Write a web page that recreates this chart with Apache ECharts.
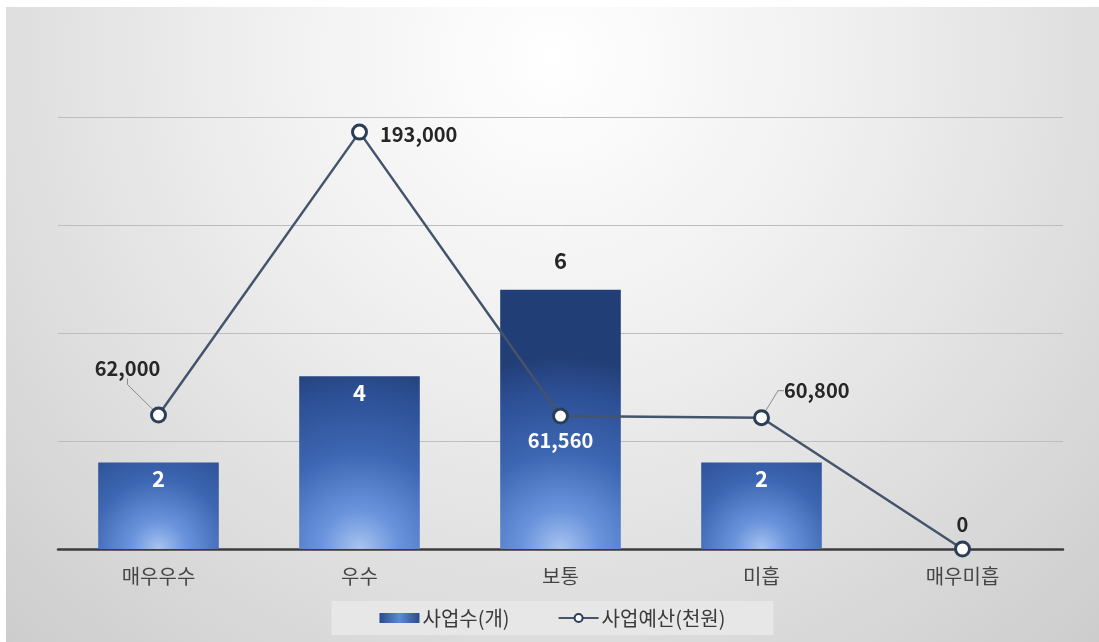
<!DOCTYPE html>
<html>
<head>
<meta charset="utf-8">
<script src="https://cdn.jsdelivr.net/npm/echarts@6/dist/echarts.min.js"></script>
<style>
html,body{margin:0;padding:0;background:#ffffff;width:1099px;height:642px;overflow:hidden;}
#chart{position:absolute;left:6px;top:7px;width:1093px;height:635px;}
</style>
</head>
<body>
<div id="chart"></div>
<script>
const categories = ['매우우수', '우수', '보통', '미흡', '매우미흡'];
const projectCounts = [2, 4, 6, 2, 0];
const budgets = [62000, 193000, 61560, 60800, 0];
const seriesNames = ['사업수(개)', '사업예산(천원)'];

const FONT = '"Noto Sans CJK KR", "Noto Sans", sans-serif';
const chart = echarts.init(document.getElementById('chart'), null, {renderer: 'canvas'});

const barGradient = new echarts.graphic.RadialGradient(0.5, 1.0, 1.6, [
  {offset: 0, color: '#a9c4f0'},
  {offset: 0.2, color: '#6a94dc'},
  {offset: 0.5, color: '#3d67b2'},
  {offset: 0.8, color: '#2d5096'},
  {offset: 1, color: '#223e76'}
]);
const legendGradient = new echarts.graphic.LinearGradient(0, 0, 1, 0, [
  {offset: 0, color: '#2a4b8c'},
  {offset: 0.5, color: '#5b8ad8'},
  {offset: 1, color: '#2a4b8c'}
]);

const barData = projectCounts.map((v, i) => {
  const item = {value: v};
  if (v === 6) {
    item.label = {position: 'top', color: '#262626', distance: 18};
  }
  return item;
});

const lineLabelCfg = [
  {position: 'top', dx: -31, dy: -22, line: true},
  {position: 'right', dx: 6, dy: 2, line: false},
  {position: 'bottom', color: '#ffffff', dx: 0, dy: 0, line: false},
  {position: 'right', dx: 8, dy: -27, line: true},
  {position: 'top', dx: 0, dy: 0, line: false}
];

const lineData = budgets.map((v, i) => {
  const c = lineLabelCfg[i];
  const item = {value: v, label: {position: c.position}};
  if (c.color) item.label.color = c.color;
  if (c.line) item.labelLine = {show: true, length2: 6, lineStyle: {color: '#8a8a8a', width: 1}};
  return item;
});

const option = {
  backgroundColor: new echarts.graphic.RadialGradient(0.5, 0.08, 1.3, [
    {offset: 0, color: '#ffffff'},
    {offset: 0.35, color: '#f0f0f0'},
    {offset: 1, color: '#cbcbcb'}
  ]),
  animation: false,
  textStyle: {fontFamily: FONT},
  grid: {left: 52, right: 36, top: 110, bottom: 93, containLabel: false},
  legend: {
    data: [
      {name: seriesNames[0], icon: 'rect', itemStyle: {color: legendGradient}},
      {name: seriesNames[1]}
    ],
    bottom: 7,
    left: 'center',
    backgroundColor: 'rgba(232,232,232,0.9)',
    padding: [7, 48],
    itemGap: 48,
    itemWidth: 40,
    itemHeight: 10,
    textStyle: {fontFamily: FONT, fontSize: 20, color: '#3a3a3a', padding: [0, 0, 0, -2]}
  },
  xAxis: {
    type: 'category',
    data: categories,
    axisLine: {show: true, lineStyle: {color: '#3c3c3c', width: 2.5}},
    axisTick: {show: false},
    axisLabel: {fontFamily: FONT, fontSize: 20, color: '#454545', margin: 17}
  },
  yAxis: [
    {
      type: 'value', min: 0, max: 10, interval: 2.5,
      axisLine: {show: false}, axisTick: {show: false}, axisLabel: {show: false},
      splitLine: {show: true, lineStyle: {color: '#bdbdbd', width: 1}}
    },
    {
      type: 'value', min: 0, max: 200000, interval: 50000,
      axisLine: {show: false}, axisTick: {show: false}, axisLabel: {show: false},
      splitLine: {show: false}
    }
  ],
  series: [
    {
      name: seriesNames[0],
      type: 'bar',
      yAxisIndex: 0,
      barWidth: '60%',
      data: barData,
      itemStyle: {color: barGradient},
      label: {
        show: true,
        position: 'insideTop',
        distance: 5,
        color: '#ffffff',
        fontFamily: FONT,
        fontSize: 22,
        fontWeight: 'bold',
        formatter: p => (p.value === 0 ? '' : String(p.value))
      },
      z: 2
    },
    {
      name: seriesNames[1],
      type: 'line',
      yAxisIndex: 1,
      data: lineData,
      symbol: 'circle',
      symbolSize: 14,
      lineStyle: {color: '#44546a', width: 2.5},
      itemStyle: {color: '#ffffff', borderColor: '#2b3e58', borderWidth: 3},
      label: {
        show: true,
        distance: 6,
        color: '#262626',
        fontFamily: FONT,
        fontSize: 20,
        fontWeight: 'bold',
        formatter: p => p.value.toLocaleString('en-US')
      },
      labelLayout: function (params) {
        const c = lineLabelCfg[params.dataIndex];
        return {dx: c.dx, dy: c.dy};
      },
      z: 5
    }
  ]
};
chart.setOption(option);
</script>
</body>
</html>
